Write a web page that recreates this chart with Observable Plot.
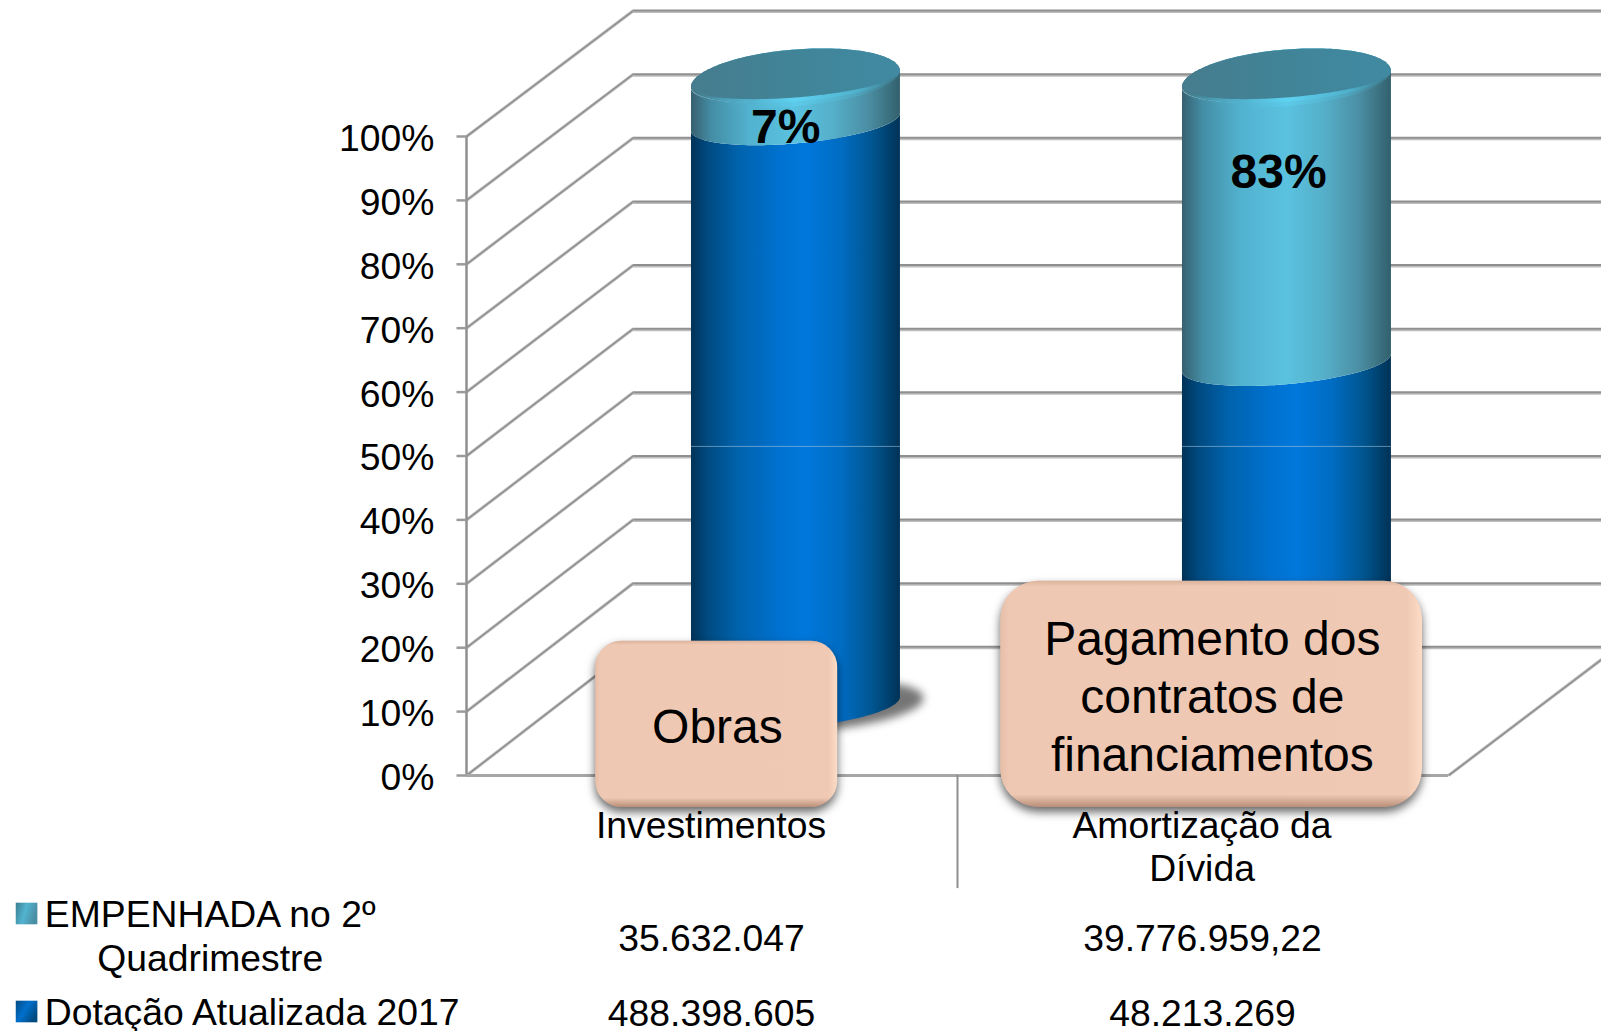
<!DOCTYPE html>
<html lang="pt">
<head>
<meta charset="utf-8">
<style>
html,body{margin:0;padding:0;background:#fff}
svg{display:block}
</style>
<script src="https://cdn.jsdelivr.net/npm/d3@7"></script>
<script src="https://cdn.jsdelivr.net/npm/@observablehq/plot@0.6"></script>
</head>
<body>
<div id="chart"></div>
<script>
// ---- data ----
const categories = ["Investimentos", "Amortização da\nDívida"];
const empenhada = [35632047, 39776959.22];
const dotacao = [488398605, 48213269];
const empenhadaText = ["35.632.047", "39.776.959,22"];
const dotacaoText = ["488.398.605", "48.213.269"];
const rateLabels = ["7%", "83%"];
const callouts = ["Obras", "Pagamento dos\ncontratos de\nfinanciamentos"];
const legendTop = "EMPENHADA no 2º\nQuadrimestre";
const legendBottom = "Dotação Atualizada 2017";
const yTicks = [0, 10, 20, 30, 40, 50, 60, 70, 80, 90, 100];

// ---- layout, in scale units (x: one unit per category, y: percent) ----
const slots = [0.5, 1.5];
const depthX = 0.34, depthY = 19.8, xEdge = 2.312;
const backBase = 20.15, backGain = 0.9955;
const cylShift = 0.171, cylA = 0.2128, cylB = 4.225, cylSkew = 1.25, bandB = 3.4, bandSkew = 1.4;
const cylBase = 10.8, cylGain = 0.981;
const labelPos = [{x: 0.65, y: 101.4}, {x: 1.654, y: 94.3}];
const boxPos = [
  {x1: 0.263, x2: 0.756, y1: -5, y2: 21, tx: 0.511, ty: 7.97, r: 26},
  {x1: 1.088, x2: 1.947, y1: -5, y2: 30.4, tx: 1.519, ty: 12.66, r: 38}
];

const shares = categories.map((_, i) => 100 * empenhada[i] / (empenhada[i] + dotacao[i]));
const cy = v => cylBase + cylGain * v;
const us = d3.range(0, 81).map(i => -Math.cos(Math.PI * i / 80));
const round = u => Math.sqrt(Math.max(0, 1 - u * u));

const band = (i, v0, v1) => us.map(u => ({
  x: slots[i] + cylShift + cylA * u,
  y1: cy(v0) + bandSkew * u - bandB * round(u),
  y2: cy(v1) + bandSkew * u - bandB * round(u)
}));
const disc = (i, v, down = 1, up = 1, off = 0) => us.map(u => ({
  x: slots[i] + cylShift + off + cylA * u,
  y1: cy(v) + cylSkew * u - cylB * down * round(u),
  y2: cy(v) + cylSkew * u + cylB * up * round(u)
}));

const area = (pts, fill, extra = {}) => Plot.areaY(pts, {x: "x", y1: "y1", y2: "y2", fill, curve: "linear", ...extra});
const F = 37.3, FB = 48;

const styled = (css) => ({
  render(index, scales, values, dimensions, context, next) {
    const g = next(index, scales, values, dimensions, context);
    g.setAttribute("style", css);
    return g;
  }
});

const cylMarks = categories.flatMap((_, i) => {
  const split = 100 - shares[i];
  return [
    area(band(i, 0, split), "url(#blueGrad)"),
    area(band(i, split, 100), "url(#tealGrad)"),
    area(disc(i, 100, 1.0, 1.1), "url(#rimGrad)", {fillOpacity: 0.5}),
    area(disc(i, 100, 0.84, 1.1), "url(#rimGrad)"),
    area(disc(i, 100, 0.68, 1.1), "url(#faceGrad)"),
    Plot.ruleY([51.5], {x1: slots[i] + cylShift - cylA, x2: slots[i] + cylShift + cylA, stroke: "#a9cbe6", strokeOpacity: 0.55, strokeWidth: 1})
  ];
});

const plot = Plot.plot({
  width: 1601, height: 1031,
  marginLeft: 466, marginRight: 153, marginTop: 136, marginBottom: 256,
  style: {fontFamily: "'Liberation Sans', Arial, sans-serif", background: "#fff", color: "#000", overflow: "visible"},
  x: {domain: [0, 2], axis: null},
  y: {domain: [0, 100], axis: null},
  marks: [
    // back wall grid
    Plot.ruleY(yTicks, {y: t => backBase + backGain * t, x1: depthX, x2: xEdge, stroke: "#bdbdbd", strokeWidth: 2, dy: 1.5}),
    Plot.ruleY(yTicks, {y: t => backBase + backGain * t, x1: depthX, x2: xEdge, stroke: "#8f8f8f", strokeWidth: 2}),
    // side wall diagonals
    Plot.link(yTicks, {x1: 0, y1: t => t, x2: depthX, y2: t => backBase + backGain * t, stroke: "#c4c4c4", strokeWidth: 3.2}),
    Plot.link(yTicks, {x1: 0, y1: t => t, x2: depthX, y2: t => backBase + backGain * t, stroke: "#909090", strokeWidth: 1.6}),
    // floor right edge
    Plot.link([0], {x1: 2, y1: 0, x2: xEdge, y2: (xEdge - 2) / depthX * depthY, stroke: "#c4c4c4", strokeWidth: 3.2}),
    Plot.link([0], {x1: 2, y1: 0, x2: xEdge, y2: (xEdge - 2) / depthX * depthY, stroke: "#909090", strokeWidth: 1.6}),
    // front axis, ticks and floor
    Plot.ruleX([0], {y1: 0, y2: 100, stroke: "#8f8f8f", strokeWidth: 2.5}),
    Plot.link(yTicks, {x1: -0.0204, x2: 0, y1: t => t, y2: t => t, stroke: "#9a9a9a", strokeWidth: 2.5}),
    Plot.ruleY([0], {x1: 0, x2: 2, stroke: "#a6a6a6", strokeWidth: 3}),
    Plot.ruleX([1], {y1: 0, y2: -17.7, stroke: "#8f8f8f", strokeWidth: 2}),
    Plot.text(yTicks, {y: t => t, frameAnchor: "left", dx: -32, dy: 2.5, textAnchor: "end", lineAnchor: "middle", text: t => t + "%", fontSize: F, fill: "#000"}),
    // cylinders
    area(disc(0, 0, 0.9, 0.9, 0.048), "#3c3c3c", styled("filter:blur(4px);opacity:.7")),
    ...cylMarks,
    // rate labels
    Plot.text(rateLabels, {x: (_, i) => labelPos[i].x, y: (_, i) => labelPos[i].y, text: d => d, fontSize: FB, fontWeight: "bold", fill: "#000", lineAnchor: "middle"}),
    // category labels
    Plot.text(categories, {x: (_, i) => slots[i] - 0.002, frameAnchor: "bottom", dy: 32, lineAnchor: "top", text: d => d, fontSize: F, lineHeight: 1.15, fill: "#000"}),
    // callout boxes
    ...callouts.flatMap((t, i) => {
      const b = boxPos[i];
      return [
        Plot.rect([b], {x1: "x1", x2: "x2", y1: "y1", y2: "y2", fill: "url(#boxH)", rx: b.r, ry: b.r, ...styled("filter:drop-shadow(0px 5px 5px rgba(0,0,0,.6))")}),
        Plot.rect([b], {x1: "x1", x2: "x2", y1: "y1", y2: "y2", fill: "url(#boxV)", rx: b.r, ry: b.r}),
        Plot.text([t], {x: b.tx, y: b.ty, text: d => d, fontSize: FB, lineHeight: 1.21, fill: "#000", lineAnchor: "middle"})
      ];
    }),
    // data table
    Plot.text(empenhadaText, {x: (_, i) => slots[i] - 0.001, frameAnchor: "bottom", dy: 164, lineAnchor: "middle", text: d => d, fontSize: F, fill: "#000"}),
    Plot.text(dotacaoText, {x: (_, i) => slots[i] - 0.001, frameAnchor: "bottom", dy: 239, lineAnchor: "middle", text: d => d, fontSize: F, fill: "#000"}),
    // legend
    Plot.dot([0], {x: -0.896, frameAnchor: "bottom", dy: 138, symbol: "square", r: 12.2, fill: "url(#swTeal)"}),
    Plot.dot([0], {x: -0.896, frameAnchor: "bottom", dy: 236, symbol: "square", r: 12.2, fill: "url(#swBlue)"}),
    Plot.text([legendTop], {x: -0.522, frameAnchor: "bottom", dy: 159, lineAnchor: "middle", text: d => d, fontSize: F, lineHeight: 1.19, fill: "#000"}),
    Plot.text([legendBottom], {x: -0.859, frameAnchor: "bottom", dy: 238, lineAnchor: "middle", textAnchor: "start", text: d => d, fontSize: F, fill: "#000"})
  ]
});

// gradients used by the marks above
const defs = d3.select(plot).append("defs");
const stops = (id, list, attrs = {x1: 0, x2: 1, y1: 0, y2: 0}) => {
  const g = defs.append("linearGradient").attr("id", id);
  Object.entries(attrs).forEach(([k, v]) => g.attr(k, v));
  list.forEach(([o, c, a]) => {
    const s = g.append("stop").attr("offset", o).attr("stop-color", c);
    if (a !== undefined) s.attr("stop-opacity", a);
  });
};
stops("blueGrad", [[0, "#003358"], [0.08, "#004a80"], [0.22, "#0062ac"], [0.42, "#0071cf"], [0.55, "#0078dc"], [0.72, "#006cc2"], [0.87, "#00558f"], [1, "#003256"]]);
stops("tealGrad", [[0, "#37606f"], [0.1, "#448ea6"], [0.28, "#52b2cf"], [0.5, "#5ac2e0"], [0.68, "#55afc9"], [0.85, "#4b8ea3"], [1, "#32606c"]]);
stops("rimGrad", [[0, "#3f7686"], [0.18, "#4ca3bd"], [0.5, "#5fd2f2"], [0.8, "#4fb0cb"], [1, "#3d7585"]]);
stops("faceGrad", [[0, "#467c8e"], [0.5, "#418498"], [1, "#408aa2"]]);
stops("boxH", [[0, "#e6bea8"], [0.02, "#eec8b3"], [0.965, "#efc9b4"], [1, "#fddcc6"]]);
stops("boxV", [[0, "#b98a70", 0.35], [0.025, "#b98a70", 0], [0.945, "#8f5f48", 0], [1, "#8f5f48", 0.55]], {x1: 0, x2: 0, y1: 0, y2: 1});
stops("swTeal", [[0, "#3c7d90"], [0.5, "#52b4d0"], [1, "#4a8ea4"]], {x1: 0, x2: 1, y1: 0, y2: 0.3});
stops("swBlue", [[0, "#004a80"], [0.5, "#0070cc"], [1, "#004a80"]], {x1: 0, x2: 1, y1: 0, y2: 0.6});

document.getElementById("chart").append(plot);
</script>
</body>
</html>
